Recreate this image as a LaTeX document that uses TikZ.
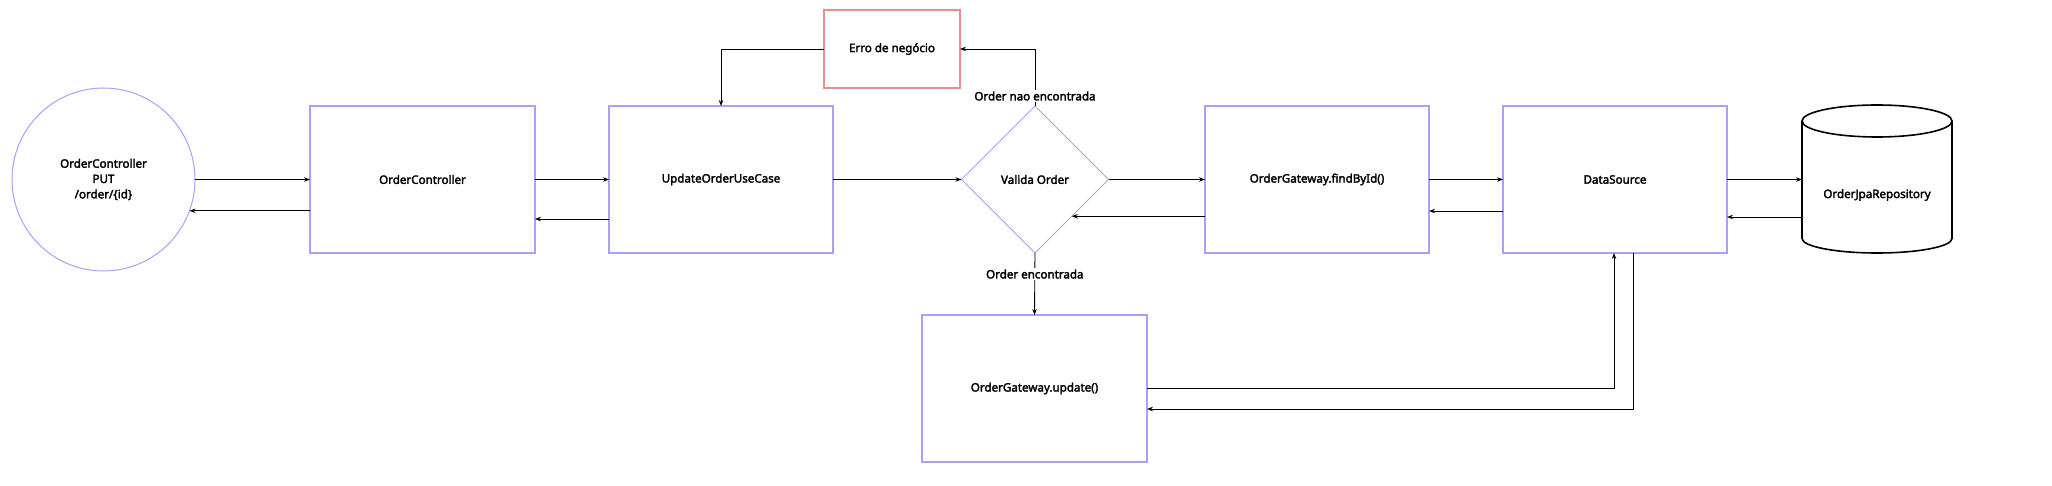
\documentclass[tikz,border=0pt]{standalone}
\usepackage{fontspec}
\setmainfont{Noto Sans}[BoldFont={Noto Sans}, BoldFeatures={FakeBold=2.5}]
\usetikzlibrary{shapes.geometric,arrows.meta,calc}
\definecolor{boxpurple}{RGB}{168,160,255}
\definecolor{boxred}{RGB}{240,140,140}
\newcommand{\diafont}{\bfseries\fontsize{11.6}{15.3}\selectfont}
\tikzset{
  box/.style={draw=boxpurple, line width=1.1pt, rectangle, minimum width=224pt, minimum height=147pt, inner sep=0pt, outer sep=0pt, font=\diafont, align=center},
  errbox/.style={draw=boxred, line width=1.1pt, rectangle, minimum width=136pt, minimum height=78pt, inner sep=0pt, outer sep=0pt, font=\diafont},
  decision/.style={draw=boxpurple, line width=1pt, diamond, minimum width=147pt, minimum height=147pt, inner sep=0pt, outer sep=0pt, font=\diafont},
  endpoint/.style={draw=boxpurple, line width=1pt, circle, minimum size=183pt, inner sep=0pt, outer sep=0pt, font=\diafont, align=center},
  dbtext/.style={minimum width=150pt, inner sep=0pt, outer sep=0pt, font=\diafont},
  arr/.style={draw=black, line width=0.9pt, -{Stealth[length=6pt,width=4.5pt]}},
  lbl/.style={fill=white, inner sep=1.5pt, font=\diafont}
}
\begin{document}
\begin{tikzpicture}[x=1pt,y=-1pt]
\useasboundingbox[fill=white] (0,0) rectangle (2052,486);

\node[endpoint] (circ) at (103.5,179.5) {OrderController\\PUT\\/order/\{id\}};
\node[box, minimum width=225pt] (oc) at (422.5,179.5) {OrderController};
\node[box] (uou) at (721,179.5) {UpdateOrderUseCase};
\node[errbox] (erro) at (892,49) {Erro de negócio};
\node[decision] (valida) at (1035,179.5) {Valida Order};
\node[box] (fbi) at (1317,179.5) {OrderGateway.findById()};
\node[box] (ds) at (1615,179.5) {DataSource};
\node[box, minimum width=225pt] (upd) at (1034.5,388.5) {OrderGateway.update()};

% cylinder
\draw[line width=1.6pt] (1802,121) -- (1802,238.5) arc[start angle=180, end angle=0, x radius=75, y radius=14.5] -- (1952,121);
\draw[line width=1.6pt] (1877,121) ellipse [x radius=75, y radius=16];
\node[dbtext] (repo) at (1877,195) {OrderJpaRepository};

% connectors
\draw[arr] (circ.east) -- (oc.west);
\draw[arr] (oc.west |- circ.-20) -- (circ.-20);
\draw[arr] (oc.east) -- (uou.west);
\draw[arr] ([yshift=-39.5pt]uou.west) -- ([yshift=-39.5pt]oc.east);
\draw[arr] (uou.east) -- (valida.west);
\draw[arr] (valida.north) -- node[lbl, pos=0.175] {Order nao encontrada} (valida.north |- erro.east) -- (erro.east);
\draw[arr] (erro.west) -| (uou.north);
\draw[arr] (valida.east) -- (fbi.west);
\draw[arr] (fbi.west |- valida.-45) -- (valida.-45);
\draw[arr] (valida.south) -- node[lbl, pos=0.34] {Order encontrada} (upd.north);
\draw[arr] (fbi.east) -- (ds.west);
\draw[arr] ([yshift=-31.5pt]ds.west) -- ([yshift=-31.5pt]ds.west -| fbi.east);
\draw[arr] (ds.east) -- (ds.east -| repo.west);
\draw[arr] ([yshift=-37.5pt]ds.east -| repo.west) -- ([yshift=-37.5pt]ds.east);
\draw[arr] (upd.east) -| ([xshift=-1pt]ds.south);
\draw[arr] ([xshift=18pt]ds.south) |- ([yshift=-20.5pt]upd.east);
\end{tikzpicture}
\end{document}
